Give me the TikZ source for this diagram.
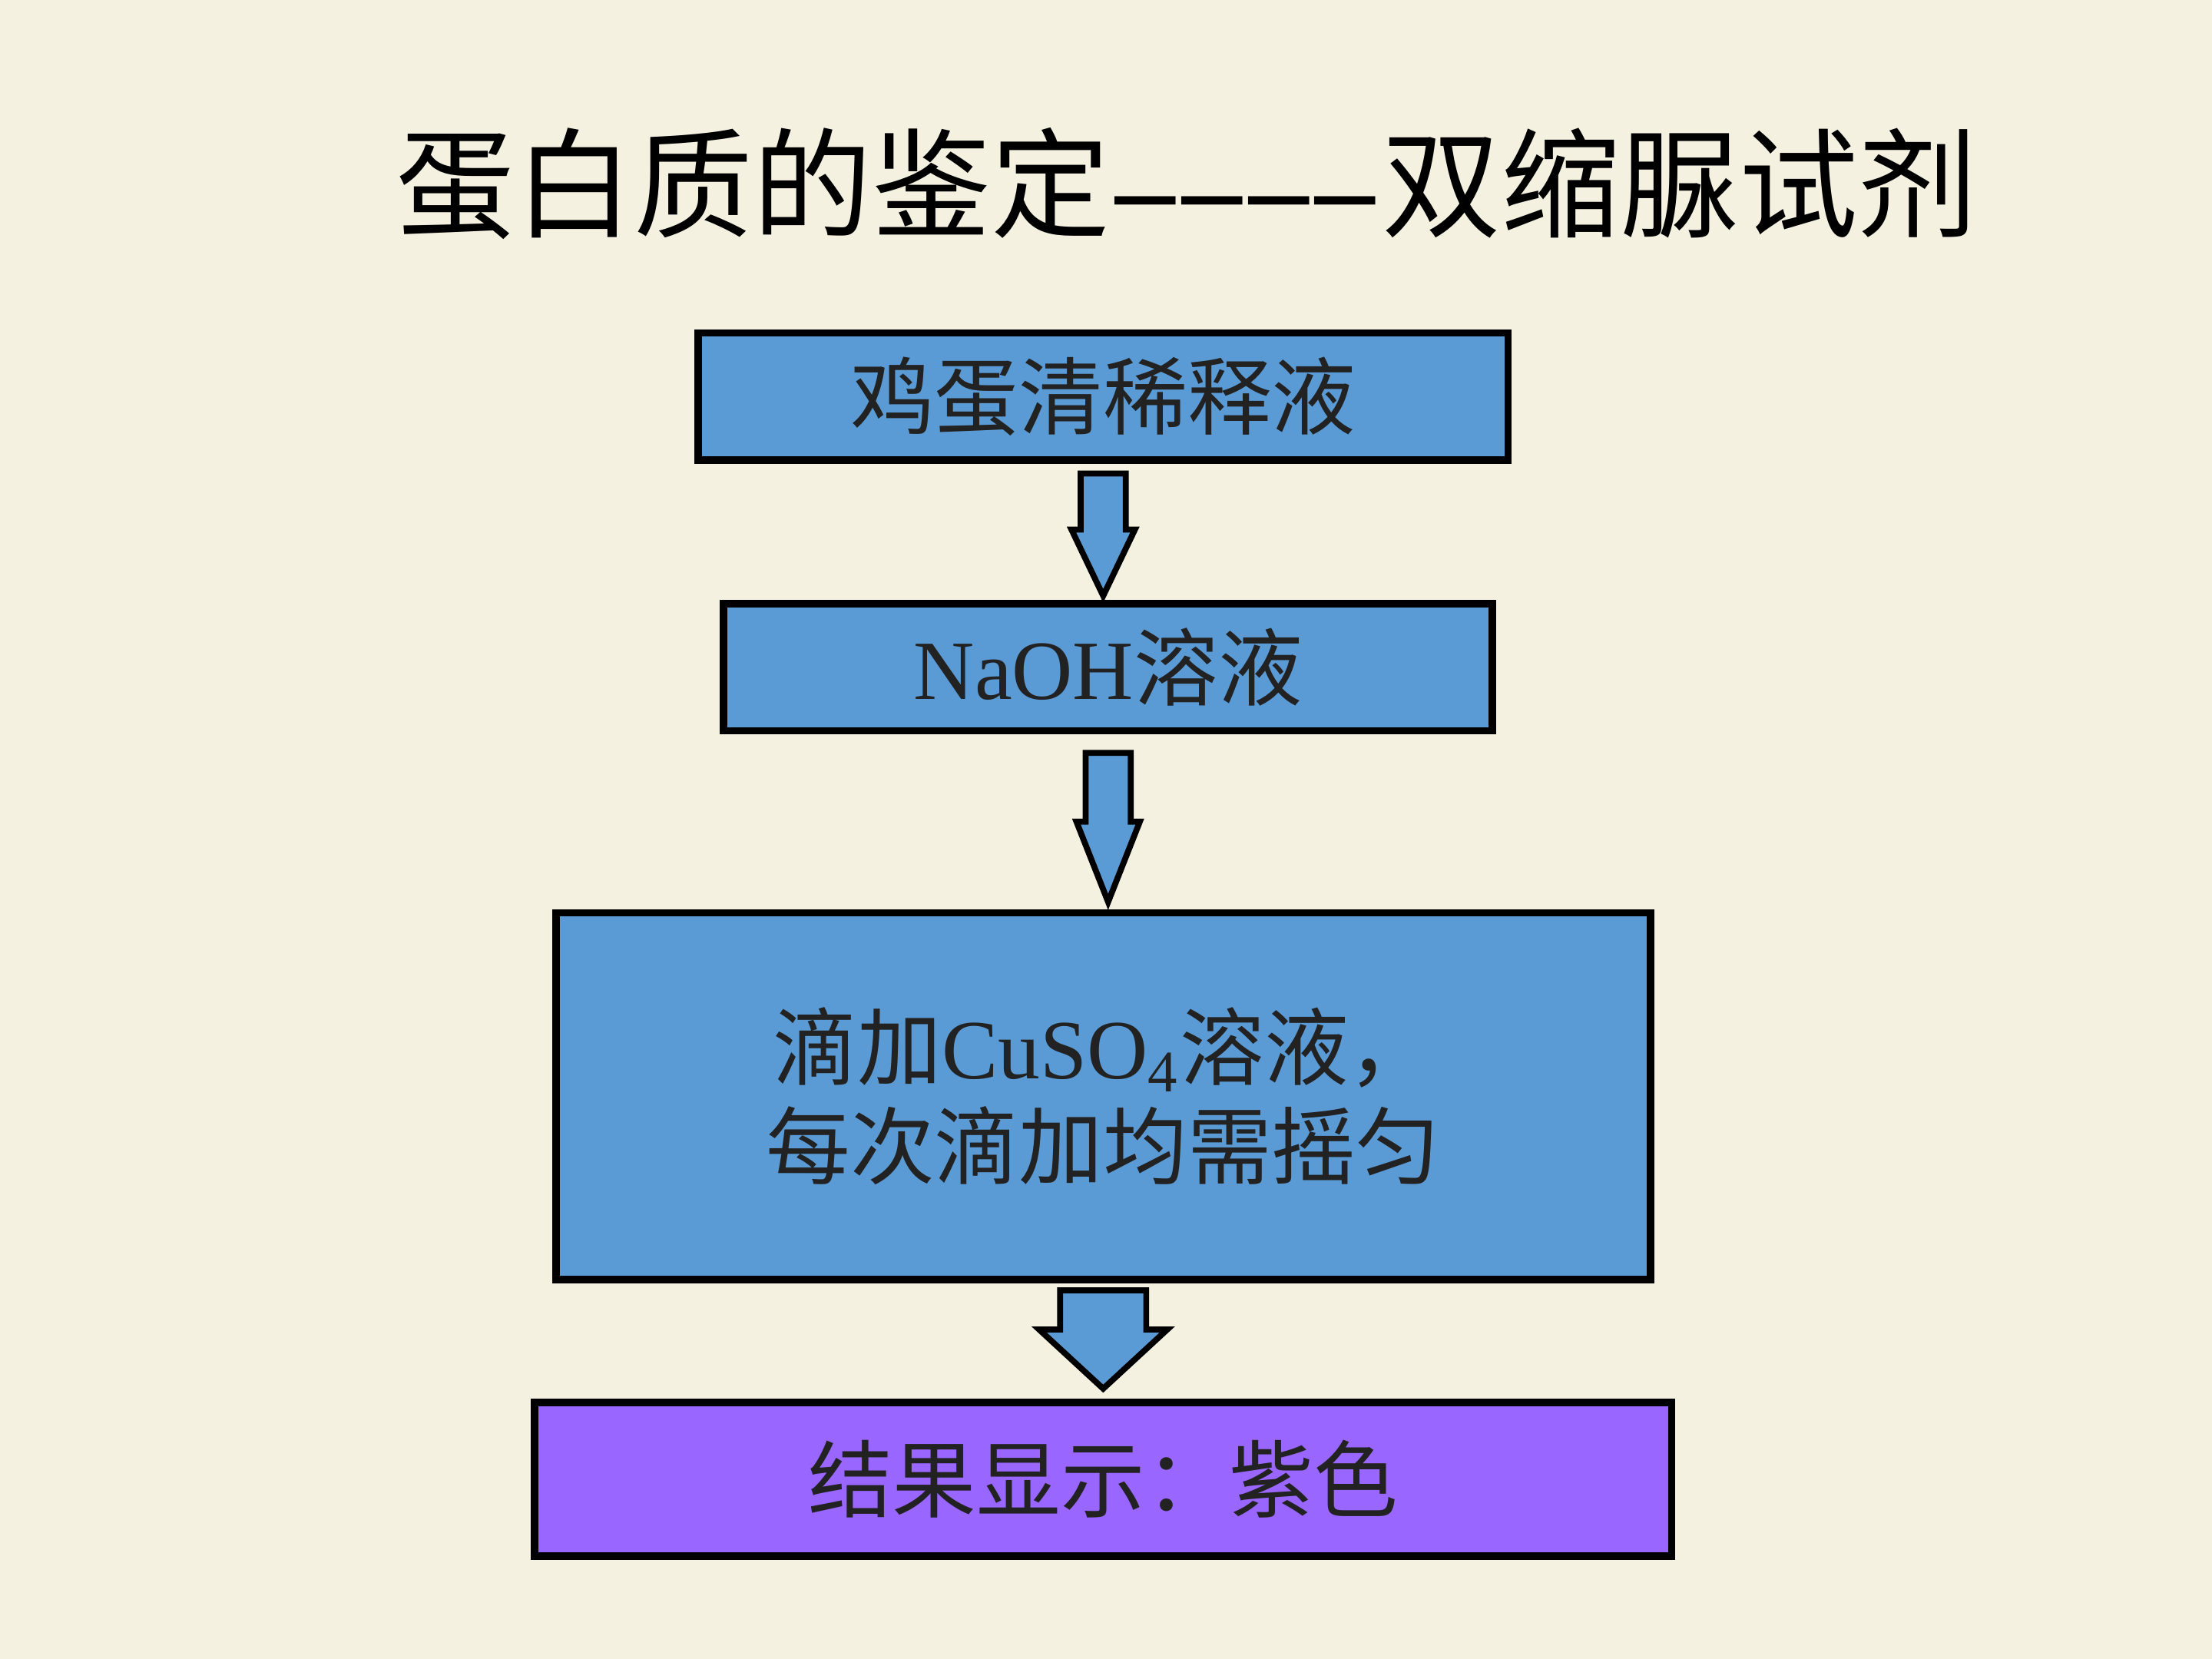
\documentclass[tikz,border=0pt]{standalone}
\usepackage{fontspec}
\setmainfont{Liberation Serif}
\newfontfamily\cjk{Noto Sans CJK SC}
\usetikzlibrary{calc}
\definecolor{paper}{RGB}{245,241,225}
\definecolor{stepblue}{RGB}{91,155,213}
\definecolor{resultpurple}{RGB}{153,102,255}
\definecolor{inkgray}{RGB}{34,34,34}

\begin{document}
\begin{tikzpicture}[
        stepbox/.style = {draw, line width = 1.5pt, fill = stepblue, text = inkgray,
            inner sep = 0pt, align = center, font = \fontsize{17}{20}\selectfont},
        blockarrow/.style = {draw, line width = 1.2pt, fill = stepblue, line join = miter}
    ]
    \fill[paper] (0, 0) rectangle (15.68, -11.76);
    \node[font = \fontsize{24}{28}\selectfont] (title) at (8.41, -1.30)
        {{\cjk 蛋白质的鉴定}\kern0.05em\textbf{–\kern0.06em–\kern0.06em–\kern0.06em–}\kern0.05em{\cjk 双缩脲试剂}};
    \node[stepbox, minimum width = 5.74cm, minimum height = 0.90cm] (egg) at (7.82, -2.81)
        {\cjk 鸡蛋清稀释液};
    \node[stepbox, minimum width = 5.45cm, minimum height = 0.90cm] (naoh) at (7.855, -4.73)
        {NaOH{\cjk 溶液}};
    \node[stepbox, minimum width = 7.76cm, minimum height = 2.60cm] (cuso) at (7.82, -7.77)
        {{\cjk 滴加}CuSO\textsubscript{4}{\cjk 溶液，}\\{\cjk 每次滴加均需摇匀}};
    \node[stepbox, fill = resultpurple, minimum width = 8.06cm, minimum height = 1.09cm] (result) at (7.82, -10.485)
        {\cjk 结果显示：紫色};
    % block arrows between the steps
    \foreach \from/\to/\shaft/\head/\gap/\tip/\len in {
            egg/naoh/0.16cm/0.225cm/0.07cm/0.03cm/0.47cm,
            naoh/cuso/0.16cm/0.225cm/0.13cm/0.05cm/0.57cm,
            cuso/result/0.305cm/0.455cm/0.05cm/0.07cm/0.42cm}
        \draw[blockarrow] let \p1 = (\from.south), \p2 = (\to.north) in
            (\x1 - \shaft, \y1 - \gap) -- (\x1 - \shaft, \y2 + \tip + \len)
            -- (\x1 - \head, \y2 + \tip + \len) -- (\x1, \y2 + \tip)
            -- (\x1 + \head, \y2 + \tip + \len) -- (\x1 + \shaft, \y2 + \tip + \len)
            -- (\x1 + \shaft, \y1 - \gap) -- cycle;
\end{tikzpicture}
\end{document}
